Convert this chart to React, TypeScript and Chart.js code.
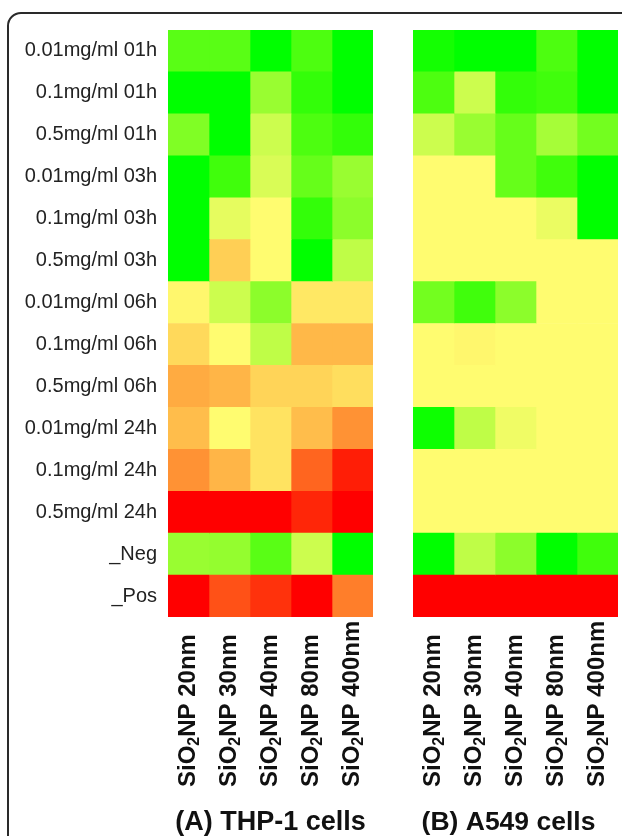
import React, { useEffect, useRef } from "react";
import { Chart, registerables } from "chart.js";

Chart.register(...registerables);

const rowLabels = [
  "0.01mg/ml 01h", "0.1mg/ml 01h", "0.5mg/ml 01h",
  "0.01mg/ml 03h", "0.1mg/ml 03h", "0.5mg/ml 03h",
  "0.01mg/ml 06h", "0.1mg/ml 06h", "0.5mg/ml 06h",
  "0.01mg/ml 24h", "0.1mg/ml 24h", "0.5mg/ml 24h",
  "_Neg", "_Pos",
];
const sizeLabels = ["20nm", "30nm", "40nm", "80nm", "400nm"];

// score: -1 = green, 0 = yellow, +1 = red
const thp20 = [-0.65, -1, -0.5, -1, -1, -1, 0.02, 0.14, 0.32, 0.25, 0.42, 1, -0.4, 1];
const thp30 = [-0.65, -1, -1, -0.75, -0.1, 0.18, -0.2, 0, 0.28, 0, 0.28, 1, -0.42, 0.68];
const thp40 = [-1, -0.4, -0.2, -0.15, 0, 0, -0.45, -0.25, 0.16, 0.1, 0.1, 1, -0.65, 0.8];
const thp80 = [-0.7, -0.8, -0.7, -0.6, -0.8, -1, 0.08, 0.27, 0.16, 0.25, 0.6, 0.85, -0.2, 1];
const thp400 = [-1, -1, -0.8, -0.4, -0.45, -0.25, 0.08, 0.27, 0.12, 0.42, 0.88, 1, -1, 0.5];

const a20 = [-0.92, -0.7, -0.2, 0, 0, 0, -0.55, 0, 0, -0.95, 0, 0, -1, 1];
const a30 = [-1, -0.2, -0.4, 0, 0, 0, -0.75, 0.02, 0, -0.25, 0, 0, -0.25, 1];
const a40 = [-1, -0.8, -0.6, -0.6, 0, 0, -0.45, 0, 0, -0.06, 0, 0, -0.45, 1];
const a80 = [-0.7, -0.75, -0.35, -0.75, -0.08, 0, 0, 0, 0, 0, 0, 0, -1, 1];
const a400 = [-1, -1, -0.55, -1, -1, 0, 0, 0, 0, 0, 0, 0, -0.75, 1];

const thpColumns = [thp20, thp30, thp40, thp80, thp400];
const a549Columns = [a20, a30, a40, a80, a400];

const FONT = "'Liberation Sans', Arial, Helvetica, sans-serif";

function scoreColor(v: number): string {
  const Y = [255, 252, 112];
  if (v <= 0) {
    const t = -v;
    const r = Math.round(Y[0] * (1 - t));
    const g = Math.round(Y[1] + (255 - Y[1]) * t);
    const b = Math.round(Y[2] * Math.pow(1 - t, 1.6));
    return `rgb(${r},${g},${b})`;
  }
  const t = v;
  const g = Math.round(Y[1] * (1 - t));
  const b = Math.round(Y[2] * Math.pow(1 - t, 1.4));
  return `rgb(255,${g},${b})`;
}

function makeLabelPlugin(title: string, titleOffset: number, titleSize: number) {
  return {
    id: "colLabels",
    afterDraw(chart: any) {
      const ctx = chart.ctx;
      const xs = chart.scales.x;
      const area = chart.chartArea;
      ctx.save();
      ctx.fillStyle = "#111";
      sizeLabels.forEach((s, i) => {
        const x = xs.getPixelForValue(i + 0.5);
        ctx.save();
        ctx.translate(x, 787);
        ctx.rotate(-Math.PI / 2);
        ctx.textBaseline = "middle";
        ctx.textAlign = "left";
        let pos = 0;
        ctx.font = `bold 24px ${FONT}`;
        ctx.fillText("SiO", pos, 0);
        pos += ctx.measureText("SiO").width;
        ctx.font = `bold 16px ${FONT}`;
        ctx.fillText("2", pos, 6);
        pos += ctx.measureText("2").width;
        ctx.font = `bold 24px ${FONT}`;
        ctx.fillText("NP " + s, pos, 0);
        ctx.restore();
      });
      ctx.font = `bold ${titleSize}px ${FONT}`;
      ctx.textAlign = "center";
      ctx.textBaseline = "middle";
      ctx.fillText(title, (area.left + area.right) / 2 + titleOffset, 823);
      ctx.restore();
    },
  };
}

function Panel(props: {
  columns: number[][];
  showY: boolean;
  title: string;
  titleOffset: number;
  titleSize: number;
  left: number;
  width: number;
  padLeft: number;
  padRight: number;
}) {
  const ref = useRef<HTMLCanvasElement>(null);
  useEffect(() => {
    if (!ref.current) return;
    const chart = new Chart(ref.current, {
      type: "bar",
      data: {
        labels: rowLabels,
        datasets: props.columns.map((col, c) => ({
          label: sizeLabels[c],
          data: col.map(() => 1),
          backgroundColor: col.map(scoreColor),
          borderWidth: 0,
          barPercentage: 1,
          categoryPercentage: 1,
        })),
      },
      options: {
        indexAxis: "y",
        responsive: false,
        animation: false,
        layout: { padding: { top: 30, bottom: 219, left: props.padLeft, right: props.padRight } },
        plugins: { legend: { display: false }, tooltip: { enabled: false } },
        scales: {
          x: { type: "linear", stacked: true, min: 0, max: 5, display: false },
          y: {
            type: "category",
            stacked: true,
            display: props.showY,
            grid: { display: false, drawTicks: false },
            border: { display: false },
            ticks: { font: { family: FONT, size: 20 }, color: "#222", padding: 11 },
            afterFit: (scale: any) => {
              if (props.showY) scale.width = 168;
            },
          },
        },
      } as any,
      plugins: [makeLabelPlugin(props.title, props.titleOffset, props.titleSize)],
    });
    return () => chart.destroy();
  }, []);
  return (
    <canvas
      ref={ref}
      width={props.width}
      height={836}
      style={{ position: "absolute", left: props.left, top: 0, width: props.width, height: 836 }}
    />
  );
}

export default function App() {
  return (
    <div
      style={{
        position: "fixed",
        left: 0,
        top: 0,
        width: 622,
        height: 836,
        overflow: "hidden",
        background: "#fff",
      }}
    >
      <div
        style={{
          position: "absolute",
          left: 7,
          top: 12,
          width: 700,
          height: 900,
          border: "2px solid #2a2a2a",
          borderRadius: 14,
        }}
      />
      <Panel columns={thpColumns} showY={true} title="(A) THP-1 cells" titleOffset={0} titleSize={27} left={0} width={395} padLeft={0} padRight={22} />
      <Panel columns={a549Columns} showY={false} title="(B) A549 cells" titleOffset={-7} titleSize={26.5} left={395} width={227} padLeft={18} padRight={4} />
    </div>
  );
}
